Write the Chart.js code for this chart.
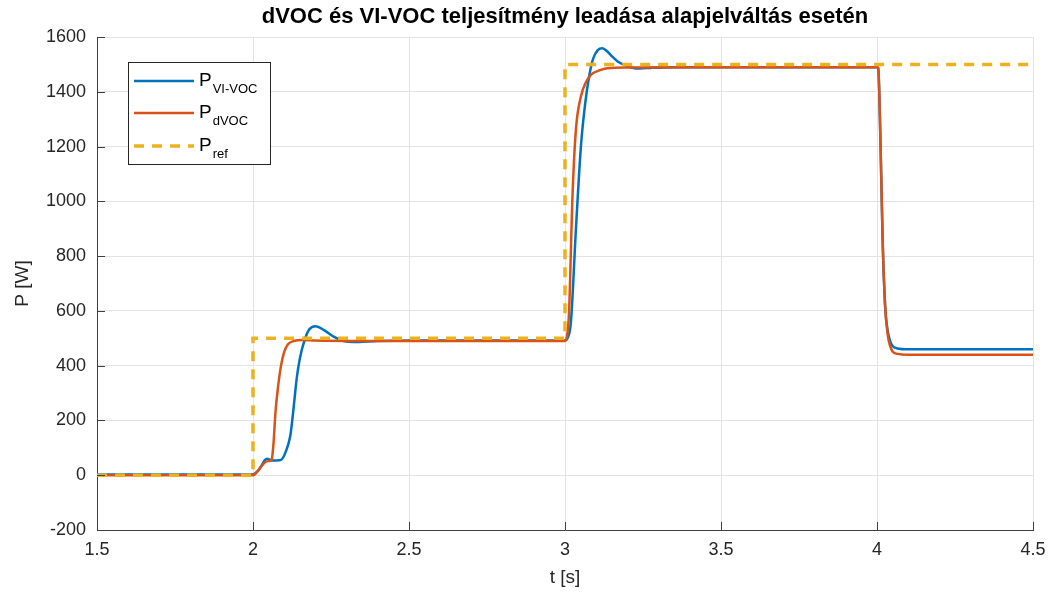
<!DOCTYPE html>
<html>
<head>
<meta charset="utf-8">
<script src="https://cdn.jsdelivr.net/npm/chart.js@4.4.1/dist/chart.umd.min.js"></script>
<style>
  html, body { margin: 0; padding: 0; background: #fff; }
  #wrap { width: 1052px; height: 593px; }
</style>
</head>
<body>
<div id="wrap"><canvas id="chart" width="1052" height="593"></canvas></div>
<script>
// values
const tVI = [1.5, 2.0, 2.01, 2.02, 2.03, 2.038, 2.046, 2.06, 2.075, 2.09, 2.105, 2.12, 2.13, 2.14, 2.15, 2.165, 2.18, 2.2, 2.23, 2.26, 2.29, 2.32, 2.4, 2.5,
             3.0, 3.008, 3.019, 3.035, 3.051, 3.065, 3.078, 3.09, 3.105, 3.12, 3.135, 3.152, 3.17, 3.19, 3.215, 3.24, 3.28, 3.35,
             4.0, 4.004, 4.011, 4.018, 4.026, 4.034, 4.042, 4.05, 4.065, 4.1, 4.5];
const pVI = [3, 3, 10, 22, 40, 55, 60, 54, 54, 56, 86, 147, 244, 353, 425, 492, 532, 544, 528, 505, 490, 486, 490, 492,
             492, 500, 560, 898, 1201, 1360, 1460, 1520, 1552, 1559, 1548, 1528, 1510, 1498, 1488, 1485, 1488, 1490,
             1490, 1486, 1225, 862, 619, 530, 490, 472, 463, 460, 460];

const tDVOC = [1.5, 2.0, 2.015, 2.027, 2.04, 2.052, 2.06, 2.066, 2.072, 2.08, 2.09, 2.1, 2.112, 2.13, 2.16, 2.2, 2.5,
               3.0, 3.006, 3.013, 3.024, 3.035, 3.051, 3.067, 3.083, 3.11, 3.136, 3.2, 3.5,
               4.0, 4.004, 4.011, 4.018, 4.026, 4.034, 4.042, 4.05, 4.065, 4.1, 4.5];
const pDVOC = [0, 0, 15, 33, 48, 52, 58, 120, 230, 320, 401, 450, 478, 490, 494, 492, 490,
               490, 505, 596, 1019, 1262, 1383, 1435, 1462, 1478, 1486, 1489, 1490,
               1490, 1486, 1225, 862, 619, 515, 472, 452, 443, 440, 440];

const tRef = [1.5, 2.0, 2.0, 3.0, 3.0, 4.5];
const pRef = [0, 0, 500, 500, 1500, 1500];

const xTicks = [1.5, 2, 2.5, 3, 3.5, 4, 4.5];
const yTicks = [-200, 0, 200, 400, 600, 800, 1000, 1200, 1400, 1600];

const titleText = 'dVOC és VI-VOC teljesítmény leadása alapjelváltás esetén';
const legendItems = [
  { main: 'P', sub: 'VI-VOC', color: '#0072BD', dash: [] },
  { main: 'P', sub: 'dVOC', color: '#D95319', dash: [] },
  { main: 'P', sub: 'ref', color: '#EDB120', dash: [10, 8] }
];

const FONT = '"Liberation Sans", Arial, Helvetica, sans-serif';
const TEXT = '#262626';

function pts(xs, ys) {
  return xs.map((x, i) => ({ x: x, y: ys[i] }));
}

// axes decorations done the MATLAB way: inward ticks, title, labels, legend
const decor = {
  id: 'decor',
  beforeDraw(chart) {
    const c = chart.ctx;
    c.save();
    c.fillStyle = '#fff';
    c.fillRect(0, 0, chart.width, chart.height);
    c.restore();
  },
  afterDraw(chart) {
    const c = chart.ctx;
    const a = chart.chartArea;
    const xs = chart.scales.x, ys = chart.scales.y;
    c.save();

    // inward tick marks
    c.strokeStyle = '#404040';
    c.lineWidth = 1;
    c.beginPath();
    yTicks.forEach(v => {
      const y = Math.round(ys.getPixelForValue(v)) + 0.5;
      c.moveTo(a.left, y); c.lineTo(a.left + 8, y);
    });
    xTicks.forEach(v => {
      const x = Math.round(xs.getPixelForValue(v)) + 0.5;
      c.moveTo(x, a.bottom); c.lineTo(x, a.bottom - 8);
    });
    c.stroke();

    // title
    c.fillStyle = '#000';
    c.font = 'bold 22px ' + FONT;
    c.textAlign = 'center';
    c.textBaseline = 'middle';
    c.fillText(titleText, (a.left + a.right) / 2, 17);

    // axis titles
    c.fillStyle = TEXT;
    c.font = '19px ' + FONT;
    c.fillText('t [s]', (a.left + a.right) / 2, 578);
    c.save();
    c.translate(23, (a.top + a.bottom) / 2);
    c.rotate(-Math.PI / 2);
    c.fillText('P [W]', 0, 0);
    c.restore();

    // legend
    const bx = 128.5, by = 62.5, bw = 142, bh = 102;
    c.fillStyle = '#fff';
    c.fillRect(bx, by, bw, bh);
    c.strokeStyle = '#262626';
    c.lineWidth = 1;
    c.strokeRect(bx, by, bw, bh);
    const rowY = [81, 113, 146];
    legendItems.forEach((it, i) => {
      const y = rowY[i];
      c.beginPath();
      c.strokeStyle = it.color;
      c.lineWidth = it.dash.length ? 3.5 : 2.5;
      c.setLineDash(it.dash);
      c.moveTo(134, y); c.lineTo(194, y);
      c.stroke();
      c.setLineDash([]);
      c.fillStyle = '#000';
      c.textAlign = 'left';
      c.textBaseline = 'alphabetic';
      c.font = '19px ' + FONT;
      c.fillText(it.main, 199, y + 5);
      const w = c.measureText(it.main).width;
      c.font = '13px ' + FONT;
      c.fillText(it.sub, 199 + w + 1, y + 12);
    });

    c.restore();
  }
};

new Chart(document.getElementById('chart'), {
  type: 'line',
  data: {
    datasets: [
      {
        label: 'P_ref',
        data: pts(tRef, pRef),
        borderColor: '#EDB120',
        borderWidth: 3.5,
        borderDash: [10, 8],
        pointRadius: 0,
        tension: 0,
        order: 0
      },
      {
        label: 'P_dVOC',
        data: pts(tDVOC, pDVOC),
        borderColor: '#D95319',
        borderWidth: 2.5,
        pointRadius: 0,
        cubicInterpolationMode: 'monotone',
        order: 1
      },
      {
        label: 'P_VI-VOC',
        data: pts(tVI, pVI),
        borderColor: '#0072BD',
        borderWidth: 2.5,
        pointRadius: 0,
        cubicInterpolationMode: 'monotone',
        order: 2
      }
    ]
  },
  options: {
    responsive: false,
    animation: false,
    events: [],
    layout: { padding: { left: 0, top: 37, right: 19, bottom: 0 } },
    plugins: {
      legend: { display: false },
      title: { display: false },
      tooltip: { enabled: false }
    },
    scales: {
      x: {
        type: 'linear',
        min: 1.5,
        max: 4.5,
        afterBuildTicks: s => { s.ticks = xTicks.map(v => ({ value: v })); },
        afterFit: s => { s.height = 63; s.paddingLeft = 0; s.paddingRight = 0; },
        grid: { color: '#e3e3e3', drawTicks: false },
        border: { color: '#404040', width: 1 },
        ticks: { color: TEXT, font: { family: FONT, size: 18 }, padding: 9, maxRotation: 0,
                 callback: v => String(v) }
      },
      y: {
        type: 'linear',
        min: -200,
        max: 1600,
        afterBuildTicks: s => { s.ticks = yTicks.map(v => ({ value: v })); },
        afterFit: s => { s.width = 97; s.paddingTop = 0; s.paddingBottom = 0; },
        grid: { color: '#e3e3e3', drawTicks: false },
        border: { color: '#404040', width: 1 },
        ticks: { color: TEXT, font: { family: FONT, size: 18 }, padding: 11,
                 callback: v => String(v) }
      }
    }
  },
  plugins: [decor]
});
</script>
</body>
</html>
